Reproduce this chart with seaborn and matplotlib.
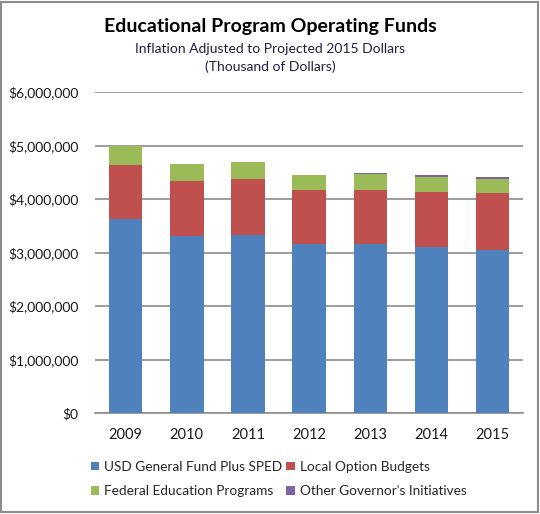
import numpy as np
import matplotlib
matplotlib.use("Agg")
import matplotlib.pyplot as plt
from matplotlib.patches import Patch, Rectangle
from matplotlib.ticker import FuncFormatter
import pandas as pd
import seaborn as sns

years = ["2009", "2010", "2011", "2012", "2013", "2014", "2015"]
usd_general = [3630000, 3310000, 3330000, 3150000, 3150000, 3100000, 3050000]
local_option = [1010000, 1030000, 1040000, 1010000, 1020000, 1030000, 1060000]
federal = [360000, 320000, 330000, 290000, 300000, 280000, 260000]
governor = [0, 0, 0, 0, 20000, 40000, 40000]

series = ["USD General Fund Plus SPED", "Local Option Budgets",
          "Federal Education Programs", "Other Governor's Initiatives"]
colors = ["#4F81BD", "#C0504D", "#9BBB59", "#8064A2"]

sns.set_style("white")
plt.rcParams["font.family"] = ["Lato", "DejaVu Sans"]

df = pd.DataFrame({"year": years, series[0]: usd_general, series[1]: local_option,
                   series[2]: federal, series[3]: governor})
cum = df[series].cumsum(axis=1)

fig = plt.figure(figsize=(5.4, 5.14), dpi=100)
ax = fig.add_axes([0.176, 0.1965, 0.793, 0.6245])

# draw cumulative totals top-down so lower segments cover the upper ones
for name, col in reversed(list(zip(series, colors))):
    sns.barplot(x=df["year"], y=cum[name], color=col, width=0.55,
                saturation=1, linewidth=0, ax=ax, zorder=3)

ax.set_ylim(0, 6000000)
ax.set_yticks(np.arange(0, 6000001, 1000000))
ax.yaxis.set_major_formatter(FuncFormatter(lambda v, p: "${:,.0f}".format(v)))
ax.grid(axis="y", color="#8C8C8C", linewidth=1.2, zorder=0)
ax.set_axisbelow(True)
for s in ["top", "right", "left"]:
    ax.spines[s].set_visible(False)
ax.spines["bottom"].set_color("#8C8C8C")
ax.spines["bottom"].set_linewidth(1.2)
ax.set_xlabel("")
ax.set_ylabel("")
ax.tick_params(axis="x", length=0, pad=11, labelsize=10.5, colors="#1a1a1a")
ax.tick_params(axis="y", length=0, pad=12, labelsize=10, colors="#1a1a1a")

fig.text(0.5, 0.949, "Educational Program Operating Funds", ha="center", va="center",
         fontsize=14, fontweight="bold", color="black")
fig.text(0.5, 0.905, "Inflation Adjusted to Projected 2015 Dollars", ha="center",
         va="center", fontsize=10, color="#1F1F3F")
fig.text(0.5, 0.870, "(Thousand of Dollars)", ha="center", va="center",
         fontsize=10, color="#1F1F3F")

order = [0, 2, 1, 3]
handles = [Patch(facecolor=colors[i], edgecolor="none", label=series[i]) for i in order]
fig.legend(handles=handles, ncol=2, loc="center left", bbox_to_anchor=(0.145, 0.068),
           frameon=False, fontsize=9.8, handlelength=0.6, handleheight=0.6,
           handletextpad=0.4, columnspacing=0.3, labelspacing=0.9)

fig.patches.append(Rectangle((0.002, 0.004), 0.994, 0.993, transform=fig.transFigure,
                             fill=False, edgecolor="#8C8C8C", linewidth=1.5))

fig.savefig("out.png", dpi=100)
